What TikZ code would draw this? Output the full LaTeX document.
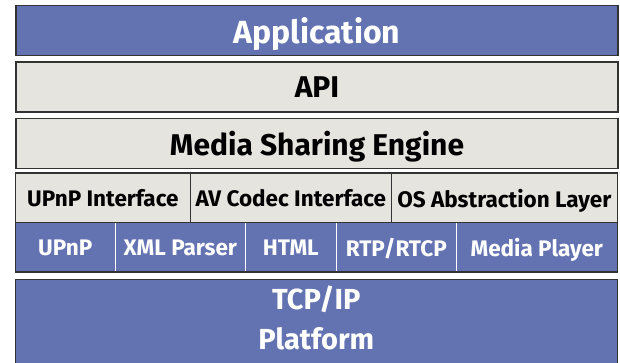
\documentclass[tikz,border=0pt]{standalone}
\usepackage{fontspec}
\setmainfont{Fira Sans}
\usetikzlibrary{
	positioning,
	fit
}
\definecolor{layerblue}{HTML}{6373B1}
\definecolor{layergray}{HTML}{E5E4DE}
\definecolor{edgegray}{HTML}{333333}

\begin{document}
\begin{tikzpicture}[x=1pt,y=1pt,node distance=5pt,
	layer/.style={draw=edgegray,line width=1.4pt,minimum width=602pt,minimum height=50pt,inner sep=0pt,text depth=0pt,font=\bfseries\fontsize{30}{36}\selectfont},
	bluelayer/.style={layer,fill=layerblue,text=white},
	graylayer/.style={layer,fill=layergray,text=black},
	cell/.style={minimum height=50pt,inner sep=0pt,outer sep=0pt,text depth=0pt,font=\bfseries\fontsize{22.5}{26}\selectfont},
	ifcell/.style={cell,draw=edgegray,line width=1.4pt,fill=layergray,text=black},
	libcell/.style={cell,minimum height=49pt,fill=layerblue,text=white}]
	\useasboundingbox (0,0) rectangle (620,-363);
	\clip (0,0) rectangle (620,-363);

	\node[bluelayer,font=\bfseries\fontsize{32}{36}\selectfont] (app) at (317,-30.5) {Application};
	\node[graylayer,below=of app] (api) {API};
	\node[graylayer,below=of api] (mse) {Media Sharing Engine};

	\node[ifcell,minimum width=175pt,below=4pt of mse.south west,anchor=north west] (upnpif) {UPnP Interface};
	\node[ifcell,minimum width=201pt,right=0pt of upnpif] (avif) {AV Codec Interface};
	\node[ifcell,minimum width=226pt,right=0pt of avif] (osal) {OS Abstraction Layer};

	\node[libcell,minimum width=100pt,below=0pt of upnpif.south west,anchor=north west] (upnp) {UPnP};
	\node[libcell,minimum width=130pt,right=0pt of upnp] (xml) {XML Parser};
	\node[libcell,minimum width=91pt,right=0pt of xml] (html) {HTML};
	\node[libcell,minimum width=120pt,right=0pt of html] (rtp) {RTP/RTCP};
	\node[libcell,minimum width=161pt,right=0pt of rtp] (player) {Media Player};

	\draw[white,line width=1.5pt] (upnp.north east) -- (upnp.south east);
	\draw[white,line width=1.5pt] (xml.north east) -- (xml.south east);
	\draw[white,line width=1.5pt] (html.north east) -- (html.south east);
	\draw[white,line width=1.5pt] (rtp.north east) -- (rtp.south east);
	\node[fit=(upnpif)(player),draw=edgegray,line width=1.4pt,inner sep=0pt] (stack) {};

	\node[bluelayer,minimum height=100pt,below=6pt of stack] (platform) {};
	\node[text=white,align=center,font=\bfseries\fontsize{29}{40}\selectfont,below=4pt of platform.north] (platformtext) {TCP/IP\\Platform};
\end{tikzpicture}
\end{document}
